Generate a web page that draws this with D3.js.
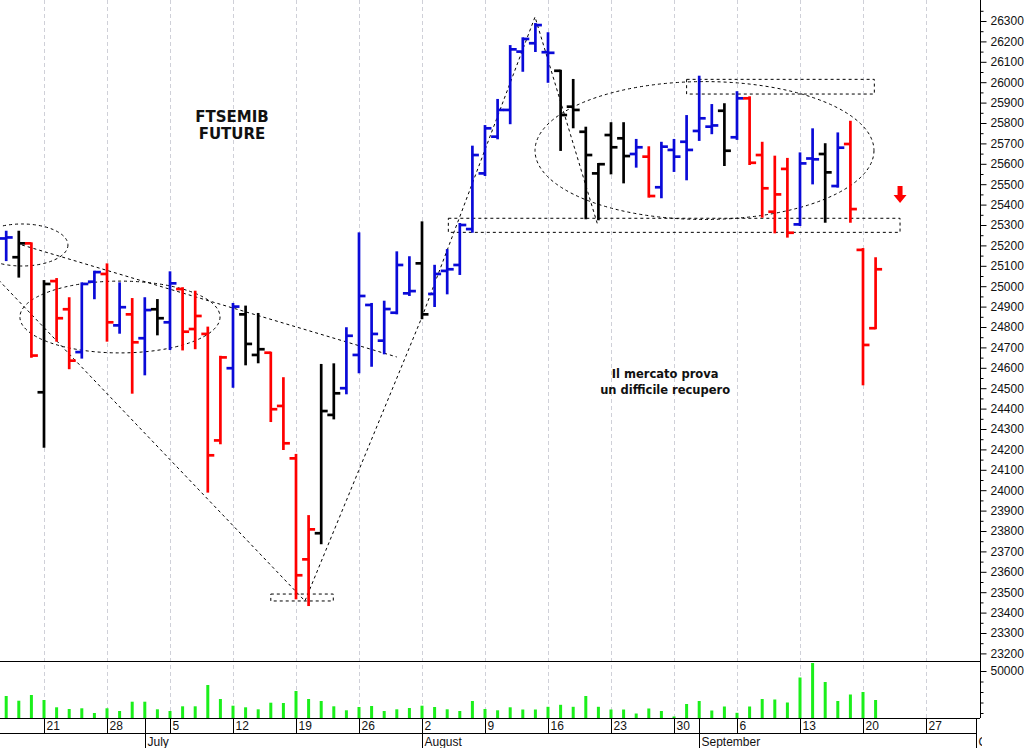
<!DOCTYPE html>
<html><head><meta charset="utf-8">
<script src="https://cdn.jsdelivr.net/npm/d3@7/dist/d3.min.js"></script>
<style>html,body{margin:0;padding:0;background:#fff}svg{display:block}</style>
</head><body><svg id="c" width="1030" height="748"></svg>
<script>
// ---------- DATA ----------
const dates = ["2021-06-16","2021-06-17","2021-06-18","2021-06-21","2021-06-22","2021-06-23","2021-06-24","2021-06-25","2021-06-28","2021-06-29","2021-06-30",
"2021-07-01","2021-07-02","2021-07-05","2021-07-06","2021-07-07","2021-07-08","2021-07-09","2021-07-12","2021-07-13","2021-07-14","2021-07-15","2021-07-16","2021-07-19","2021-07-20","2021-07-21","2021-07-22","2021-07-23","2021-07-26","2021-07-27","2021-07-28","2021-07-29","2021-07-30",
"2021-08-02","2021-08-03","2021-08-04","2021-08-05","2021-08-06","2021-08-09","2021-08-10","2021-08-11","2021-08-12","2021-08-13","2021-08-16","2021-08-17","2021-08-18","2021-08-19","2021-08-20","2021-08-23","2021-08-24","2021-08-25","2021-08-26","2021-08-27","2021-08-30","2021-08-31",
"2021-09-01","2021-09-02","2021-09-03","2021-09-06","2021-09-07","2021-09-08","2021-09-09","2021-09-10","2021-09-13","2021-09-14","2021-09-15","2021-09-16","2021-09-17","2021-09-20","2021-09-21"];
const open  = [25234,25142,25210,24480,25025,24887,24677,25022,25060,24808,24862,24745,24887,24823,24986,24790,24766,24244,24598,24862,24663,24674,24413,24156,23661,23789,24369,24500,24663,24908,24733,24870,24965,25112,24962,25075,25104,25280,25553,25733,25864,26150,26191,26147,26056,25880,25757,25553,25741,25725,25648,25635,25485,25668,25708,25761,25782,25860,25730,25921,25643,25365,25575,25303,25626,25648,25491,25697,25178,24794];
const high  = [25267,25267,25210,25025,25035,24941,25014,25071,25107,25014,24937,24941,24932,25068,24990,24973,24797,24654,24913,24900,24864,24674,24549,24173,23873,24614,24617,24794,25259,24913,24924,25166,25142,25313,25100,25177,25305,25684,25785,25913,26177,26215,26285,26240,26056,26011,25777,25599,25799,25799,25717,25681,25703,25717,25834,26027,25888,25892,25951,25926,25703,25635,25624,25651,25769,25696,25749,25806,25182,25137];
const low   = [25128,25047,24654,24213,24733,24598,24650,24941,24733,24772,24478,24568,24764,24692,24690,24696,23993,24230,24507,24617,24627,24339,24202,23470,23437,23740,24352,24475,24578,24610,24671,24867,24957,24843,24903,24965,25060,25267,25545,25725,25799,26056,26153,26002,25668,25779,25333,25328,25553,25509,25586,25439,25436,25565,25524,25717,25750,25594,25722,25599,25341,25264,25243,25300,25504,25316,25488,25316,24519,24794];
const close = [25239,25210,24660,25011,24843,24635,25011,25069,24823,24897,24725,24883,24843,25014,24777,24854,24171,24651,24900,24717,24691,24397,24230,23583,23808,24388,24475,24757,24952,24766,24888,25104,24976,24862,25060,25083,25300,25643,25774,25864,26161,26212,26280,26144,25839,25864,25643,25598,25681,25638,25681,25442,25684,25635,25668,25823,25788,25664,25921,25605,25480,25450,25262,25602,25622,25558,25679,25378,24712,25083];
// b = blue, r = red, k = black (one letter per bar)
const barColor = ("bkrkrrbbrb" + "rbkbrrrrbk" + "krrrrkkbbb" + "bbbkbbbbbb" + "bbbbkkkkkk" + "brbbbbbkbr" + "rrrbbkbrrr").split("");
const volume = [26190,21710,27140,22380,15430,13810,14480,10000,14480,11900,20760,20760,13520,11900,16380,16380,36670,23330,16950,15430,13520,19810,19520,30950,23330,21430,16380,12570,15710,16670,11900,13520,14760,16950,15710,13520,11900,21430,13810,12570,15430,13330,13330,15900,17810,15900,26190,15900,13330,13330,9520,14290,11900,6670,18570,21430,12380,16190,10190,16190,23330,22860,20000,43810,57620,39520,21430,27620,30000,22380];

const priceTicks = d3.range(23200, 26301, 100);
const priceMinor = d3.range(23250, 26351, 100);
const volTicks = [50000];
const volMinor = [10000, 20000, 30000, 40000];
const weekDates  = ["2021-06-21","2021-06-28","2021-07-05","2021-07-12","2021-07-19","2021-07-26","2021-08-02","2021-08-09","2021-08-16","2021-08-23","2021-08-30","2021-09-06","2021-09-13","2021-09-20","2021-09-27"];
const weekLabels = ["21","28","5","12","19","26","2","9","16","23","30","6","13","20","27"];
const monthDates  = ["2021-07-01","2021-08-02","2021-09-01","2021-10-01"];
const monthLabels = ["July","August","September","October"];

// annotations in data coordinates [trading-day index, price]
const trendA = [[1.25,25202],[31.0,24653]];
const trendV = [[-0.6,25030],[23.71,23457],[33.0,24849],[41.97,26320],[46.97,25295]];
const ellipses = [ {c:[1.25,25202], rx:3.65, ry:103}, {c:[9.03,24849], rx:7.94, ry:176}, {c:[55.42,25665], rx:13.45, ry:338} ];
const boxes = [ {i0:54.0,i1:68.9,p0:26014,p1:25942}, {i0:35.09,i1:70.94,p0:25333,p1:25264}, {i0:21.0,i1:25.96,p0:23491,p1:23457} ];
const arrowAt = [70.94, 25491];
const titleLines = ["FTSEMIB","FUTURE"];
const titleAt = [17.92, 25805];
const noteLines = ["Il mercato prova","un difficile recupero"];
const noteAt = [52.3, 24550];

// ---------- SCALES ----------
const svg = d3.select("#c");
const start = new Date(Date.UTC(2021,5,16));
const parse = s => { const [Y,M,D] = s.split("-").map(Number); return new Date(Date.UTC(Y,M-1,D)); };
const tIdx = s => d3.utcDay.range(start, parse(s)).filter(d => d.getUTCDay()%6 !== 0).length;
const x = d3.scaleLinear().domain([0, 77]).range([6.2, 976.4]);
const y = d3.scaleLinear().domain([23300, 26300]).range([633, 21]);
const yv = d3.scaleLinear().domain([0, 50000]).range([723.5, 671]);
const AX = 980, PRICE_BOTTOM = 661, VOL_BOTTOM = 718, ROW2 = 733;

const font = "'Liberation Sans', Arial, sans-serif";

// clip
const defs = svg.append("defs");
defs.append("clipPath").attr("id","pc").append("rect").attr("x",0).attr("y",0).attr("width",AX).attr("height",PRICE_BOTTOM);
defs.append("clipPath").attr("id","dc").append("rect").attr("x",0).attr("y",VOL_BOTTOM).attr("width",AX+2).attr("height",40);

// gridlines
const grid = svg.append("g");
weekDates.forEach(d => {
  const gx = Math.round(x(tIdx(d))) + 0.5;
  if (gx < AX) grid.append("line").attr("x1",gx).attr("x2",gx).attr("y1",0).attr("y2",VOL_BOTTOM)
    .attr("stroke","#cfd0d8").attr("stroke-dasharray","4,3").attr("stroke-width",1);
});

// panel lines
svg.append("line").attr("x1",0).attr("x2",AX).attr("y1",PRICE_BOTTOM+0.5).attr("y2",PRICE_BOTTOM+0.5).attr("stroke","#000");
svg.append("line").attr("x1",0).attr("x2",AX).attr("y1",VOL_BOTTOM+0.5).attr("y2",VOL_BOTTOM+0.5).attr("stroke","#000");
svg.append("line").attr("x1",0).attr("x2",x(tIdx(monthDates[3]))).attr("y1",ROW2+0.5).attr("y2",ROW2+0.5).attr("stroke","#000");
svg.append("line").attr("x1",AX+0.5).attr("x2",AX+0.5).attr("y1",0).attr("y2",VOL_BOTTOM).attr("stroke","#000");

// price axis
const pa = svg.append("g").attr("transform",`translate(${AX+0.5},0)`);
pa.call(d3.axisRight(y).tickValues(priceTicks).tickSize(6).tickPadding(4).tickFormat(d3.format("d")));
pa.select(".domain").remove();
pa.selectAll("text").attr("font-family",font).attr("font-size",12).attr("fill","#111");
const pm = svg.append("g").attr("transform",`translate(${AX+0.5},0)`);
pm.call(d3.axisRight(y).tickValues(priceMinor).tickSize(3).tickFormat(""));
pm.select(".domain").remove();
svg.selectAll(".tick").filter(function(){ const t=d3.select(this).attr("transform"); const ty=+t.match(/,([\-\d.]+)\)/)[1]; return ty>PRICE_BOTTOM-2; }).remove();

// volume axis
const va = svg.append("g").attr("transform",`translate(${AX+0.5},0)`);
va.call(d3.axisRight(yv).tickValues(volTicks).tickSize(6).tickPadding(4).tickFormat(d3.format("d")));
va.select(".domain").remove();
va.selectAll("text").attr("font-family",font).attr("font-size",12).attr("fill","#111");
const vm = svg.append("g").attr("transform",`translate(${AX+0.5},0)`);
vm.call(d3.axisRight(yv).tickValues(volMinor).tickSize(3).tickFormat(""));
vm.select(".domain").remove();

// date axis
const da = svg.append("g").attr("clip-path","url(#dc)");
weekDates.forEach((d,k) => {
  const gx = Math.round(x(tIdx(d))) + 0.5;
  da.append("line").attr("x1",gx).attr("x2",gx).attr("y1",VOL_BOTTOM).attr("y2",ROW2).attr("stroke","#000");
  da.append("text").attr("x",gx+2).attr("y",ROW2-3).text(weekLabels[k])
    .attr("font-family",font).attr("font-size",12).attr("fill","#111");
});
monthDates.forEach((d,k) => {
  const gx = Math.round(x(tIdx(d))) + 0.5;
  da.append("line").attr("x1",gx).attr("x2",gx).attr("y1",VOL_BOTTOM).attr("y2",748).attr("stroke","#000");
  da.append("text").attr("x",gx+2).attr("y",746).text(monthLabels[k])
    .attr("font-family",font).attr("font-size",12).attr("fill","#111");
});

// volume bars
svg.append("g").selectAll("rect").data(volume).join("rect")
  .attr("x",(v,i)=>x(tIdx(dates[i]))-1.5).attr("width",3)
  .attr("y",v=>yv(v)).attr("height",v=>VOL_BOTTOM-yv(v))
  .attr("fill","#1bef1b");

// annotations
const ann = svg.append("g").attr("clip-path","url(#pc)").attr("fill","none").attr("stroke","#000")
  .attr("stroke-width",1).attr("stroke-dasharray","3,3");
const line = d3.line().x(d=>x(d[0])).y(d=>y(d[1]));
ann.append("path").attr("d",line(trendA));
ann.append("path").attr("d",line(trendV));
ellipses.forEach(e => {
  ann.append("ellipse").attr("cx",x(e.c[0])).attr("cy",y(e.c[1]))
    .attr("rx",x(e.rx)-x(0)).attr("ry",y(0)-y(e.ry));
});
boxes.forEach(b => {
  ann.append("rect").attr("x",x(b.i0)).attr("y",y(b.p0))
    .attr("width",x(b.i1)-x(b.i0)).attr("height",y(b.p1)-y(b.p0));
});

// price bars
const colors = {b:"#0a0ad8", r:"#ff0000", k:"#000000"};
const bars = svg.append("g").attr("clip-path","url(#pc)");
dates.forEach((d,i) => {
  const cx = x(tIdx(d)), c = colors[barColor[i]];
  const g = bars.append("g").attr("stroke",c).attr("stroke-width",2.7);
  g.append("line").attr("x1",cx).attr("x2",cx).attr("y1",y(high[i])-1).attr("y2",y(low[i])+1);
  g.append("line").attr("x1",cx-6.5).attr("x2",cx).attr("y1",y(open[i])).attr("y2",y(open[i]));
  g.append("line").attr("x1",cx).attr("x2",cx+6.5).attr("y1",y(close[i])).attr("y2",y(close[i]));
});

// arrow
const ax0 = x(arrowAt[0]), ay0 = y(arrowAt[1]);
svg.append("path").attr("fill","#ff0000")
  .attr("d",`M${ax0-2.5},${ay0} h5 v9 h4 l-6.5,8 l-6.5,-8 h4 z`);

// texts
const tf = "'DejaVu Sans', Verdana, sans-serif";
titleLines.forEach((t,k) => svg.append("text").attr("x",x(titleAt[0])).attr("y",y(titleAt[1])+k*17)
  .attr("text-anchor","middle").attr("font-family",tf).attr("font-weight","bold").attr("font-size",15)
  .attr("fill","#111").text(t));
noteLines.forEach((t,k) => svg.append("text").attr("x",x(noteAt[0])).attr("y",y(noteAt[1])+k*16)
  .attr("text-anchor","middle").attr("font-family",tf).attr("font-weight","bold").attr("font-size",11.5)
  .attr("fill","#111").text(t));
</script></body></html>
